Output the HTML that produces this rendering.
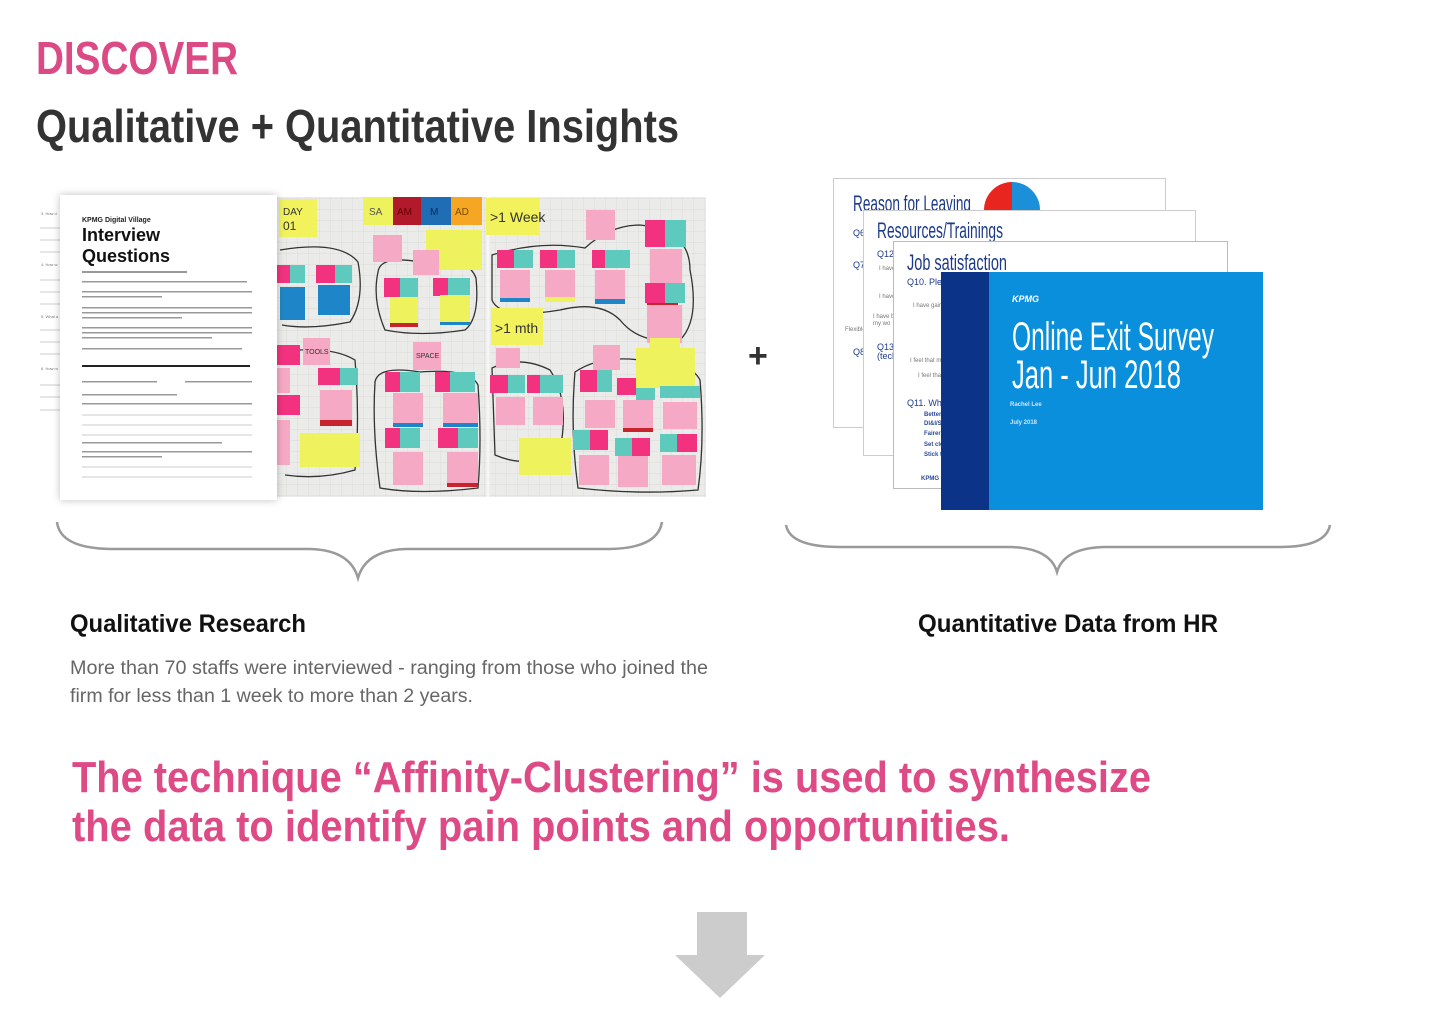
<!DOCTYPE html>
<html><head><meta charset="utf-8"><style>
html,body{margin:0;padding:0;background:#fff;}
body{width:1440px;height:1013px;position:relative;overflow:hidden;font-family:"Liberation Sans",sans-serif;}
</style></head><body>
<svg width="1440" height="1013" viewBox="0 0 1440 1013" xmlns="http://www.w3.org/2000/svg" style="position:absolute;left:0;top:0">
<defs>
<pattern id="grid" width="11" height="11" patternUnits="userSpaceOnUse"><path d="M11 0H0V11" fill="none" stroke="#d6d6d4" stroke-width="0.7"/></pattern>
<filter id="sh" x="-10%" y="-10%" width="120%" height="120%"><feDropShadow dx="0" dy="0" stdDeviation="4" flood-color="#000" flood-opacity="0.25"/></filter>
</defs>
<g font-family="Liberation Sans, sans-serif" font-weight="bold">
<text x="36" y="74" font-size="46" fill="#db4a85" textLength="202" lengthAdjust="spacingAndGlyphs">DISCOVER</text>
<text x="36" y="142" font-size="46" fill="#333" textLength="643" lengthAdjust="spacingAndGlyphs">Qualitative + Quantitative Insights</text>
</g>

<!-- photo -->
<rect x="277" y="197" width="429" height="300" fill="#ebebe9"/>
<rect x="277" y="197" width="429" height="300" fill="url(#grid)"/>
<line x1="488" y1="197" x2="488" y2="497" stroke="#f6f6f4" stroke-width="3"/>
<g fill="none" stroke="#333" stroke-width="1.3">
<path d="M280 250 Q340 240 358 262 Q365 300 350 322 Q310 330 282 325"/>
<path d="M378 272 Q380 255 420 262 Q468 255 476 278 Q480 318 465 330 Q420 337 385 330 Q372 300 378 272Z"/>
<path d="M492 255 Q540 240 585 248 Q610 225 640 225 Q690 230 690 270 Q700 320 680 340 Q640 345 620 320 Q600 300 560 310 Q500 320 492 300Z"/>
<path d="M280 352 Q330 345 355 360 Q360 420 355 470 Q320 480 285 475"/>
<path d="M375 382 Q378 365 420 372 Q470 368 478 385 Q482 440 478 488 Q420 495 380 488 Q372 430 375 382Z"/>
<path d="M492 368 Q520 355 550 370 Q570 400 560 450 Q530 470 495 455Z"/>
<path d="M575 372 Q600 355 640 360 Q690 360 700 380 Q705 440 698 490 Q640 495 578 488 Q570 430 575 372Z"/>
</g>
<g>
<!-- header notes -->
<rect x="279" y="199" width="38" height="38" fill="#f1f25c"/>
<text x="283" y="215" font-size="10" fill="#333">DAY</text><text x="283" y="230" font-size="12" fill="#333">01</text>
<rect x="363" y="197" width="30" height="28" fill="#eef25c"/>
<rect x="393" y="197" width="28" height="28" fill="#b2192b"/>
<rect x="421" y="197" width="30" height="28" fill="#1f6db5"/>
<rect x="451" y="197" width="31" height="28" fill="#f5a623"/>
<text x="369" y="215" font-size="10" fill="#555">SA</text><text x="397" y="215" font-size="10" fill="#600">AM</text><text x="430" y="215" font-size="10" fill="#0a2c5a">M</text><text x="455" y="215" font-size="10" fill="#7a4a00">AD</text>
<rect x="486" y="198" width="53" height="37" fill="#f1f25c"/>
<text x="490" y="222" font-size="14" fill="#333">&gt;1 Week</text>
<rect x="426" y="230" width="56" height="40" fill="#eef25c"/>
<rect x="373" y="235" width="29" height="27" fill="#f6a9c4"/>
<rect x="413" y="250" width="26" height="25" fill="#f6a9c4"/>
<rect x="586" y="210" width="29" height="30" fill="#f6a9c4"/>
<rect x="491" y="308" width="52" height="37" fill="#f1f25c"/>
<text x="495" y="333" font-size="14" fill="#333">&gt;1 mth</text>
<rect x="636" y="348" width="59" height="40" fill="#eef25c"/>
<rect x="303" y="338" width="27" height="27" fill="#f6a9c4"/>
<text x="305" y="354" font-size="7" fill="#333">TOOLS</text>
<rect x="413" y="342" width="28" height="28" fill="#f6a9c4"/>
<text x="416" y="358" font-size="7" fill="#333">SPACE</text>
<rect x="300" y="433" width="60" height="34" fill="#eef25c"/>
<rect x="519" y="438" width="52" height="37" fill="#eef25c"/>
<rect x="593" y="345" width="27" height="25" fill="#f6a9c4"/>
<rect x="496" y="348" width="24" height="20" fill="#f6a9c4"/>
<!-- right column -->
<rect x="645" y="220" width="20" height="27" fill="#f2327e"/><rect x="665" y="220" width="21" height="27" fill="#5ec9bd"/>
<rect x="650" y="249" width="32" height="39" fill="#f6a9c4"/>
<rect x="647" y="288" width="31" height="28" fill="#c8242e"/>
<rect x="645" y="283" width="20" height="20" fill="#f2327e"/><rect x="665" y="283" width="20" height="20" fill="#5ec9bd"/>
<rect x="647" y="305" width="35" height="38" fill="#f6a9c4"/>
<rect x="650" y="338" width="30" height="10" fill="#eef25c"/>
<!-- cluster 1 -->
<rect x="277" y="265" width="13" height="18" fill="#f2327e"/><rect x="290" y="265" width="15" height="18" fill="#5ec9bd"/>
<rect x="316" y="265" width="19" height="18" fill="#f2327e"/><rect x="335" y="265" width="17" height="18" fill="#5ec9bd"/>
<rect x="280" y="287" width="25" height="33" fill="#1e86c8"/>
<rect x="318" y="285" width="32" height="30" fill="#1e86c8"/>
<!-- cluster 2 -->
<rect x="384" y="278" width="16" height="19" fill="#f2327e"/><rect x="400" y="278" width="18" height="19" fill="#5ec9bd"/>
<rect x="433" y="278" width="15" height="18" fill="#f2327e"/><rect x="448" y="278" width="22" height="18" fill="#5ec9bd"/>
<rect x="390" y="299" width="28" height="28" fill="#c8242e"/><rect x="390" y="297" width="28" height="26" fill="#eef25c"/>
<rect x="440" y="297" width="30" height="28" fill="#1e86c8"/><rect x="440" y="295" width="30" height="27" fill="#eef25c"/>
<!-- cluster 3 -->
<rect x="497" y="250" width="17" height="18" fill="#f2327e"/><rect x="514" y="250" width="19" height="18" fill="#5ec9bd"/>
<rect x="540" y="250" width="17" height="18" fill="#f2327e"/><rect x="557" y="250" width="18" height="18" fill="#5ec9bd"/>
<rect x="592" y="250" width="13" height="18" fill="#f2327e"/><rect x="605" y="250" width="25" height="18" fill="#5ec9bd"/>
<rect x="500" y="272" width="30" height="30" fill="#1e86c8"/><rect x="500" y="270" width="30" height="28" fill="#f6a9c4"/>
<rect x="545" y="272" width="30" height="30" fill="#eef25c"/><rect x="545" y="270" width="30" height="27" fill="#f6a9c4"/>
<rect x="595" y="272" width="30" height="32" fill="#1e86c8"/><rect x="595" y="270" width="30" height="29" fill="#f6a9c4"/>
<!-- bottom left -->
<rect x="277" y="345" width="23" height="20" fill="#f2327e"/>
<rect x="277" y="395" width="23" height="20" fill="#f2327e"/>
<rect x="277" y="368" width="13" height="25" fill="#f6a9c4"/>
<rect x="318" y="368" width="22" height="17" fill="#f2327e"/><rect x="340" y="368" width="18" height="17" fill="#5ec9bd"/>
<rect x="320" y="392" width="32" height="34" fill="#c8242e"/><rect x="320" y="390" width="32" height="30" fill="#f6a9c4"/>
<rect x="277" y="420" width="13" height="45" fill="#f6a9c4"/>
<!-- bottom mid -->
<rect x="385" y="372" width="15" height="20" fill="#f2327e"/><rect x="400" y="372" width="20" height="20" fill="#5ec9bd"/>
<rect x="435" y="372" width="15" height="20" fill="#f2327e"/><rect x="450" y="372" width="25" height="20" fill="#5ec9bd"/>
<rect x="393" y="395" width="30" height="32" fill="#1e86c8"/><rect x="393" y="393" width="30" height="30" fill="#f6a9c4"/>
<rect x="443" y="395" width="35" height="32" fill="#1e86c8"/><rect x="443" y="393" width="35" height="30" fill="#f6a9c4"/>
<rect x="385" y="428" width="15" height="20" fill="#f2327e"/><rect x="400" y="428" width="20" height="20" fill="#5ec9bd"/>
<rect x="438" y="428" width="20" height="20" fill="#f2327e"/><rect x="458" y="428" width="20" height="20" fill="#5ec9bd"/>
<rect x="393" y="452" width="30" height="33" fill="#f6a9c4"/>
<rect x="447" y="454" width="31" height="33" fill="#c8242e"/><rect x="447" y="452" width="31" height="31" fill="#f6a9c4"/>
<!-- bottom right -->
<rect x="490" y="375" width="18" height="18" fill="#f2327e"/><rect x="508" y="375" width="17" height="18" fill="#5ec9bd"/>
<rect x="527" y="375" width="13" height="18" fill="#f2327e"/><rect x="540" y="375" width="23" height="18" fill="#5ec9bd"/>
<rect x="496" y="397" width="29" height="28" fill="#f6a9c4"/>
<rect x="533" y="397" width="30" height="28" fill="#f6a9c4"/>
<rect x="580" y="370" width="17" height="22" fill="#f2327e"/><rect x="597" y="370" width="15" height="22" fill="#5ec9bd"/>
<rect x="617" y="378" width="19" height="17" fill="#f2327e"/><rect x="636" y="388" width="19" height="12" fill="#5ec9bd"/>
<rect x="660" y="386" width="40" height="12" fill="#5ec9bd"/>
<rect x="585" y="400" width="30" height="28" fill="#f6a9c4"/>
<rect x="623" y="402" width="30" height="30" fill="#c8242e"/><rect x="623" y="400" width="30" height="28" fill="#f6a9c4"/>
<rect x="663" y="402" width="34" height="27" fill="#f6a9c4"/>
<rect x="573" y="430" width="17" height="20" fill="#5ec9bd"/><rect x="590" y="430" width="18" height="20" fill="#f2327e"/>
<rect x="615" y="438" width="17" height="18" fill="#5ec9bd"/><rect x="632" y="438" width="18" height="18" fill="#f2327e"/>
<rect x="660" y="434" width="17" height="18" fill="#5ec9bd"/><rect x="677" y="434" width="20" height="18" fill="#f2327e"/>
<rect x="579" y="455" width="30" height="30" fill="#f6a9c4"/>
<rect x="618" y="456" width="30" height="31" fill="#f6a9c4"/>
<rect x="662" y="455" width="34" height="30" fill="#f6a9c4"/>
</g>

<!-- back doc -->
<g stroke="#bbb" stroke-width="0.8">
<line x1="40" y1="228" x2="60" y2="228"/><line x1="40" y1="240" x2="60" y2="240"/><line x1="40" y1="252" x2="60" y2="252"/>
<line x1="40" y1="280" x2="60" y2="280"/><line x1="40" y1="292" x2="60" y2="292"/><line x1="40" y1="304" x2="60" y2="304"/>
<line x1="40" y1="330" x2="60" y2="330"/><line x1="40" y1="342" x2="60" y2="342"/><line x1="40" y1="354" x2="60" y2="354"/>
<line x1="40" y1="385" x2="60" y2="385"/><line x1="40" y1="397" x2="60" y2="397"/><line x1="40" y1="410" x2="60" y2="410"/>
</g>
<g font-size="4" fill="#777"><text x="41" y="215">3. How d</text><text x="41" y="266">4. How w</text><text x="41" y="318">5. What a</text><text x="41" y="370">6. How m</text></g>
<!-- front doc -->
<rect x="60" y="195" width="217" height="305" fill="#fff" filter="url(#sh)"/>
<text x="82" y="222" font-size="7" font-weight="bold" fill="#222">KPMG Digital Village</text>
<text x="82" y="241" font-size="18" font-weight="bold" fill="#111">Interview</text>
<text x="82" y="262" font-size="18" font-weight="bold" fill="#111">Questions</text>
<g fill="#999">
<rect x="82" y="271" width="105" height="2"/>
<rect x="82" y="281" width="165" height="1.5"/>
<rect x="82" y="291" width="170" height="1.5"/><rect x="82" y="296" width="80" height="1.5"/>
<rect x="82" y="307" width="170" height="1.5"/><rect x="82" y="312" width="170" height="1.5"/><rect x="82" y="317" width="100" height="1.5"/>
<rect x="82" y="327" width="170" height="1.5"/><rect x="82" y="332" width="170" height="1.5"/><rect x="82" y="337" width="130" height="1.5"/>
<rect x="82" y="348" width="160" height="1.5"/>
<rect x="82" y="381" width="75" height="1.5"/><rect x="185" y="381" width="67" height="1.5"/>
<rect x="82" y="394" width="95" height="1.5"/><rect x="82" y="403" width="170" height="1.5"/>
<rect x="82" y="442" width="140" height="1.5"/><rect x="82" y="451" width="170" height="1.5"/><rect x="82" y="456" width="80" height="1.5"/>
</g>
<rect x="82" y="365" width="168" height="2" fill="#222"/>
<g stroke="#bbb" stroke-width="0.8"><line x1="82" y1="415" x2="252" y2="415"/><line x1="82" y1="425" x2="252" y2="425"/><line x1="82" y1="435" x2="252" y2="435"/><line x1="82" y1="467" x2="252" y2="467"/><line x1="82" y1="477" x2="252" y2="477"/></g>

<!-- plus -->
<text x="748" y="367" font-size="34" font-weight="bold" fill="#333">+</text>

<!-- slides -->
<rect x="833.5" y="178.5" width="332" height="249" fill="#fff" stroke="#ccc"/>
<path d="M1012 210 A28 28 0 0 1 1012 182 L1012 210Z" fill="#e8261f"/>
<path d="M984 210 A28 28 0 0 1 1012 182 L1012 210Z" fill="#e8261f"/>
<path d="M1012 182 A28 28 0 0 1 1040 210 L1012 210Z" fill="#1b8fd8"/>
<text x="853" y="211" font-size="22" fill="#1d3a8a" textLength="118" lengthAdjust="spacingAndGlyphs">Reason for Leaving</text>
<text x="853" y="236" font-size="9" fill="#1d3a8a">Q6</text><text x="853" y="268" font-size="9" fill="#1d3a8a">Q7</text><text x="845" y="331" font-size="6" fill="#777">Flexible</text><text x="853" y="355" font-size="9" fill="#1d3a8a">Q8</text>
<rect x="863.5" y="210.5" width="332" height="245" fill="#fff" stroke="#ccc"/>
<text x="877" y="238" font-size="22" fill="#1d3a8a" textLength="126" lengthAdjust="spacingAndGlyphs">Resources/Trainings</text>
<text x="877" y="257" font-size="9" fill="#1d3a8a">Q12 P</text>
<g font-size="6" fill="#777"><text x="879" y="270">I have</text><text x="879" y="298">I have</text><text x="873" y="318">I have b</text><text x="873" y="325">my wo</text></g>
<text x="877" y="350" font-size="9" fill="#1d3a8a">Q13 Pl</text><text x="877" y="359" font-size="9" fill="#1d3a8a">(techn</text>
<rect x="893.5" y="241.5" width="334" height="247" fill="#fff" stroke="#bbb"/>
<text x="907" y="270" font-size="22" fill="#1d3a8a" textLength="100" lengthAdjust="spacingAndGlyphs">Job satisfaction</text>
<text x="907" y="285" font-size="9" fill="#1d3a8a">Q10. Pleas</text>
<g font-size="6" fill="#777"><text x="913" y="307">I have gair</text><text x="910" y="362">I feel that m</text><text x="918" y="377">I feel tha</text></g>
<text x="907" y="406" font-size="9" fill="#1d3a8a">Q11. What do</text>
<g font-size="6" fill="#2a4a9a" font-weight="bold"><text x="924" y="416">Better</text><text x="924" y="425">DI&amp;I/S</text><text x="924" y="435">Fairer</text><text x="924" y="446">Set cle</text><text x="924" y="456">Stick t</text><text x="921" y="480">KPMG</text></g>
<rect x="941" y="272" width="322" height="238" fill="#0a8fdc"/>
<rect x="941" y="272" width="48" height="238" fill="#0b3388"/>
<text x="1012" y="302" font-size="9" font-weight="bold" font-style="italic" fill="#fff">KPMG</text>
<text x="1012" y="350" font-size="40" fill="#fff" textLength="202" lengthAdjust="spacingAndGlyphs">Online Exit Survey</text>
<text x="1012" y="388" font-size="40" fill="#fff" textLength="169" lengthAdjust="spacingAndGlyphs">Jan - Jun 2018</text>
<text x="1010" y="406" font-size="6" font-weight="bold" fill="#cfe6f7">Rachel Lee</text>
<text x="1010" y="424" font-size="6" font-weight="bold" fill="#cfe6f7">July 2018</text>

<!-- braces -->
<g fill="none" stroke="#9a9a9a" stroke-width="2.5">
<path d="M57 522 Q60 548 110 549 L310 549 Q350 550 358 578 Q366 550 406 549 L610 549 Q658 548 662 522"/>
<path d="M786 525 Q790 547 840 547 L1010 547 Q1050 548 1057 572 Q1064 548 1104 547 L1280 547 Q1326 547 1330 525"/>
</g>

<g font-family="Liberation Sans, sans-serif">
<text x="70" y="632" font-size="25" font-weight="bold" fill="#111" textLength="236" lengthAdjust="spacingAndGlyphs">Qualitative Research</text>
<text x="918" y="632" font-size="25" font-weight="bold" fill="#111" textLength="300" lengthAdjust="spacingAndGlyphs">Quantitative Data from HR</text>
<text x="70" y="674" font-size="19" fill="#666" textLength="638" lengthAdjust="spacingAndGlyphs">More than 70 staffs were interviewed - ranging from those who joined the</text>
<text x="70" y="702" font-size="19" fill="#666" textLength="403" lengthAdjust="spacingAndGlyphs">firm for less than 1 week to more than 2 years.</text>
<text x="72" y="792" font-size="44" font-weight="bold" fill="#de4a86" textLength="1079" lengthAdjust="spacingAndGlyphs">The technique “Affinity-Clustering” is used to synthesize</text>
<text x="72" y="841" font-size="44" font-weight="bold" fill="#de4a86" textLength="938" lengthAdjust="spacingAndGlyphs">the data to identify pain points and opportunities.</text>
</g>

<!-- arrow -->
<path d="M697 912 H747 V955 H765 L720 998 L675 955 H697Z" fill="#cccccc"/>
</svg>
</body></html>
